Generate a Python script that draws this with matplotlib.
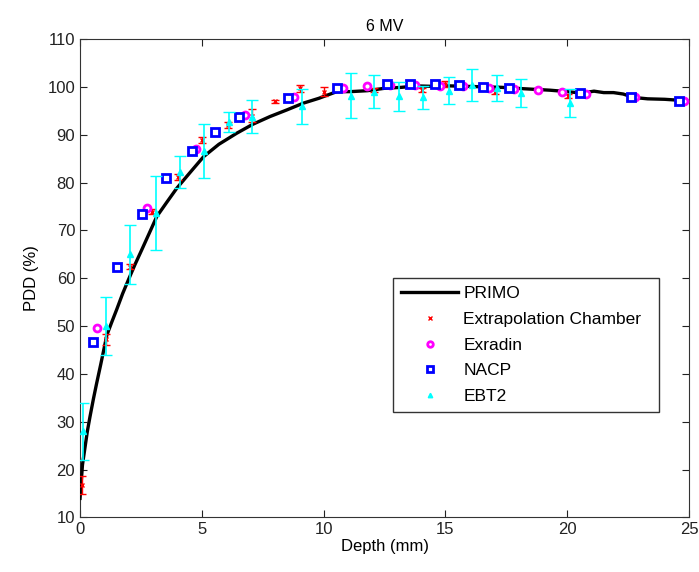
import numpy as np
import matplotlib
matplotlib.use('Agg')
import matplotlib.pyplot as plt

plt.rcParams['font.family'] = ['Liberation Sans', 'DejaVu Sans']

# PRIMO simulated PDD curve
primo_x = [0.0, 0.05, 0.1, 0.2, 0.3, 0.41, 0.55, 0.68, 0.85, 1.1, 1.3, 1.5, 1.75, 1.98, 2.25,
           2.53, 2.85, 3.15, 3.55, 3.97, 4.5, 5.07, 5.7, 6.43, 7.1, 7.8, 8.5, 9.17, 9.8,
           10.54, 11.1, 11.8, 12.5, 13.2, 13.8, 14.5, 15.2, 15.9, 16.6, 17.3, 17.9, 18.6,
           19.3, 20.0, 20.6, 21.1, 21.5, 21.9, 22.3, 22.7, 23.3, 24.0, 24.6, 25.0]
primo_y = [14.0, 17.5, 21.0, 24.5, 28.0, 31.1, 34.8, 38.0, 42.0, 48.1, 50.8, 53.4, 56.8, 59.6, 62.8,
           65.9, 69.5, 72.9, 75.8, 78.8, 82.0, 85.4, 88.0, 90.3, 92.2, 93.8, 95.2, 96.6, 97.6,
           99.0, 99.0, 99.2, 99.7, 99.9, 100.2, 100.1, 100.2, 100.1, 100.0, 99.9, 99.7, 99.5,
           99.3, 99.0, 98.7, 99.1, 98.8, 98.8, 98.5, 97.8, 97.5, 97.4, 97.2, 97.0]

# Extrapolation chamber
ext_x = [0.07, 1.07, 2.05, 2.94, 4.04, 5.02, 6.06, 7.05, 8.0, 9.03, 10.03, 12.05, 14.03, 15.0, 17.04, 20.05]
ext_y = [16.8, 47.2, 62.4, 73.9, 81.2, 88.9, 92.0, 94.0, 97.0, 99.7, 99.0, 99.3, 99.3, 100.6, 99.0, 98.1]
ext_err = [1.8, 1.2, 0.5, 0.5, 0.6, 0.6, 0.7, 1.3, 0.3, 0.7, 0.9, 0.4, 0.4, 0.7, 0.5, 0.4]

# Exradin
exr_x = [0.71, 2.75, 4.76, 6.79, 8.79, 10.79, 11.77, 12.73, 13.76, 14.78, 15.74, 16.77, 17.8,
         18.8, 19.78, 20.77, 22.8, 24.78]
exr_y = [49.5, 74.6, 87.0, 94.1, 97.8, 99.7, 100.2, 100.4, 100.4, 100.2, 100.2, 99.8, 99.6,
         99.3, 99.0, 98.6, 97.8, 97.0]

# NACP
nacp_x = [0.52, 1.51, 2.56, 3.53, 4.59, 5.54, 6.53, 8.53, 10.54, 12.6, 13.55, 14.58, 15.54,
          16.56, 17.59, 20.53, 22.6, 24.6]
nacp_y = [46.6, 62.4, 73.4, 81.0, 86.6, 90.6, 93.6, 97.7, 99.7, 100.6, 100.6, 100.6, 100.4,
          100.0, 99.7, 98.8, 97.9, 97.0]

# EBT2 film
ebt_x = [0.11, 1.07, 2.05, 3.1, 4.1, 5.1, 6.1, 7.05, 9.1, 11.13, 12.07, 13.1, 14.1, 15.13,
         16.1, 17.1, 18.1, 20.1]
ebt_y = [28.0, 50.0, 65.0, 73.6, 82.2, 86.6, 92.6, 93.8, 95.9, 98.1, 99.0, 98.0, 97.8, 99.2,
         100.4, 99.7, 98.7, 96.7]
ebt_err = [6.0, 6.0, 6.1, 7.7, 3.4, 5.7, 2.1, 3.5, 3.7, 4.7, 3.5, 3.0, 2.4, 2.8,
           3.4, 2.7, 2.9, 2.9]

fig = plt.figure(figsize=(6.99, 5.72), dpi=100)
ax = fig.add_axes([0.1145, 0.0953, 0.8712, 0.8365])

h_primo, = ax.plot(primo_x, primo_y, color='black', lw=2.4, label='PRIMO', zorder=3)

ax.errorbar(ext_x, ext_y, yerr=ext_err, fmt='none', ecolor='red',
            elinewidth=1, capsize=3, zorder=4)
h_ext, = ax.plot(ext_x, ext_y, 'x', color='red', ms=3, mew=1,
                 label='Extrapolation Chamber', zorder=4)
h_exr, = ax.plot(exr_x, exr_y, 'o', mfc='white', mec='magenta', ms=5, mew=2,
                 label='Exradin', zorder=5)
h_nacp, = ax.plot(nacp_x, nacp_y, 's', mfc='white', mec='blue', ms=5.5, mew=2,
                  label='NACP', zorder=6)
ax.errorbar(ebt_x, ebt_y, yerr=ebt_err, fmt='none', ecolor='cyan',
            elinewidth=1.2, capsize=4, zorder=7)
h_ebt, = ax.plot(ebt_x, ebt_y, '^', color='cyan', ms=4, mew=1,
                 label='EBT2', zorder=7)

ax.set_xlim(0, 25)
ax.set_ylim(10, 110)
ax.set_xticks(range(0, 26, 5))
ax.set_yticks(range(10, 111, 10))
ax.tick_params(direction='in', top=True, right=True, length=5, labelsize=12, colors='#222222')
for s in ax.spines.values():
    s.set_color('#333333')

ax.set_title('6 MV', fontsize=11.5, pad=6)
ax.set_xlabel('Depth (mm)', fontsize=12, labelpad=1)
ax.set_ylabel('PDD (%)', fontsize=12, labelpad=6)

leg = ax.legend(handles=[h_primo, h_ext, h_exr, h_nacp, h_ebt],
                loc='lower left', bbox_to_anchor=(0.514, 0.22, 0.437, 0.289), mode='expand',
                fontsize=12.5, fancybox=False, framealpha=1, edgecolor='#333333',
                handlelength=3.3, handletextpad=0.3, borderpad=0.45, borderaxespad=0,
                labelspacing=0.62, markerscale=0.8)
leg.get_frame().set_linewidth(1)

fig.savefig('out.png', dpi=100)
